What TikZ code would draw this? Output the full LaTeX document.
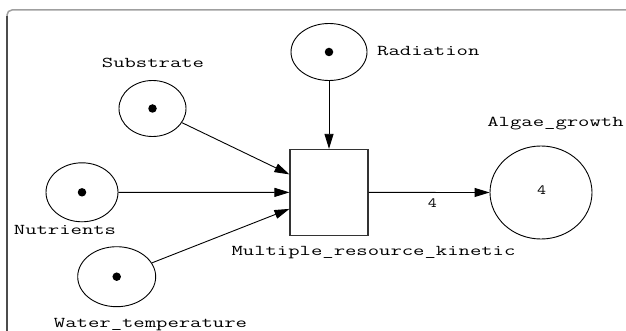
\documentclass[tikz,border=0pt]{standalone}
\usepackage{fontspec}
\usepackage{graphicx}
\usetikzlibrary{shapes.geometric,arrows.meta,calc}
\newcommand\lbltext[1]{\scalebox{1.47}[1]{\fontsize{15}{17}\selectfont\ttfamily #1}}
\begin{document}
\begin{tikzpicture}[x=1pt,y=-1pt,
  place/.style={draw=black, line width=0.9pt, ellipse, inner sep=0pt},
  trans/.style={draw=black!80, line width=1.1pt, rectangle, inner sep=0pt,
                minimum width=78pt, minimum height=86pt},
  token/.style={circle, fill=black, inner sep=0pt, minimum size=8.5pt},
  arc/.style={draw=black, line width=0.9pt, -{Triangle[length=15pt,width=9pt]}},
  lbl/.style={inner sep=0pt, anchor=base, text=black}]
\useasboundingbox (0,0) rectangle (626,331);
% frame
\draw[gray!75, line width=1.5pt, rounded corners=5pt] (7,345) -- (7,10) -- (640,10);
\draw[black!70, line width=1.5pt] (7,345) -- (7,16);

% places
\node[place, minimum width=76pt, minimum height=57pt] (rad) at (329,52) {};
\node[place, minimum width=67pt, minimum height=56pt] (sub) at (152.5,108.5) {};
\node[place, minimum width=72pt, minimum height=59pt] (nut) at (82,192.3) {};
\node[place, minimum width=78pt, minimum height=60pt] (wat) at (116.7,276.7) {};
\node[place, minimum width=102pt, minimum height=93pt] (alg) at (541,192.5) {};

% tokens
\node[token] (radt) at (rad) {};
\node[token] (subt) at (sub) {};
\node[token] (nutt) at (nut) {};
\node[token] (watt) at (wat) {};

% transition
\node[trans] (box) at (329,192.4) {};

% arcs
\draw[arc] (rad) -- (box);
\draw[arc] (sub) -- ($(box.west)+(0,-18)$);
\draw[arc] (nut) -- (box);
\draw[arc] (wat) -- ($(box.west)+(0,16.5)$);
\draw[arc] (box) -- (alg);

% labels
\node[lbl, anchor=base west] (radl) at (377,56) {\lbltext{Radiation}};
\node[lbl] (subl) at (153,67.5) {\lbltext{Substrate}};
\node[lbl] (nutl) at (65,234.5) {\lbltext{Nutrients}};
\node[lbl] (watl) at (150.5,327.5) {\lbltext{Water\_temperature}};
\node[lbl] (algl) at (555.5,126.5) {\lbltext{Algae\_growth}};
\node[lbl] (boxl) at (373.5,255.5) {\lbltext{Multiple\_resource\_kinetic}};
\node[lbl] (arcw) at (432.5,207.5) {\scalebox{1.25}[1]{\fontsize{14}{16}\selectfont\ttfamily 4}};
\node[lbl] (algm) at (541.5,194.5) {\scalebox{1.25}[1]{\fontsize{14}{16}\selectfont\ttfamily 4}};
\end{tikzpicture}
\end{document}
